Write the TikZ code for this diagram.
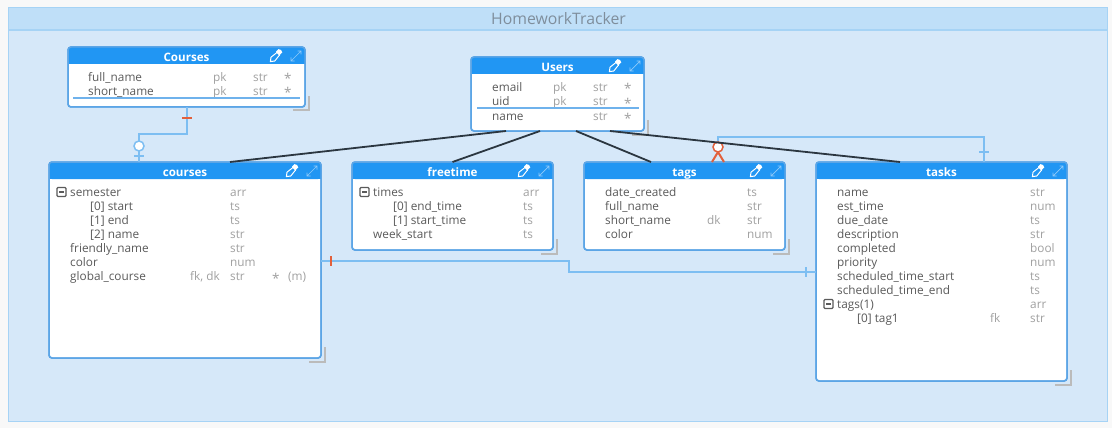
\documentclass[tikz,border=0pt]{standalone}
\usepackage{fontspec}
\setmainfont{Open Sans}
\usetikzlibrary{calc}
\definecolor{outerbg}{HTML}{F8F8F8}
\definecolor{panelbg}{HTML}{D6E8F9}
\definecolor{panelband}{HTML}{BFDFF8}
\definecolor{panelline}{HTML}{A6D3F5}
\definecolor{headblue}{HTML}{2196F3}
\definecolor{boxline}{HTML}{5CA5E6}
\definecolor{sepline}{HTML}{6FB2EC}
\definecolor{conn}{HTML}{7DBEF2}
\definecolor{redmark}{HTML}{E2603C}
\definecolor{txt}{HTML}{5A5A5A}
\definecolor{txtlight}{HTML}{A0A0A0}
\definecolor{dark}{HTML}{2B3640}
\definecolor{grip}{HTML}{BBBBBB}
\definecolor{titlegray}{HTML}{7F8E9C}
\tikzset{
  x=1pt,y=-1pt,
  tablebox/.style={draw=boxline,line width=1.5pt,fill=white,rounded corners=3pt,anchor=north west,inner sep=0pt,outer sep=0pt},
  rowname/.style={anchor=base west,inner sep=0pt,font=\fontsize{11.8}{12}\selectfont,text=txt},
  rowmeta/.style={anchor=base west,inner sep=0pt,font=\fontsize{11.8}{12}\selectfont,text=txtlight},
  rowstar/.style={anchor=base west,inner sep=0pt,font=\fontsize{13.5}{14}\selectfont,text=txtlight},
  tabletitle/.style={anchor=base,inner sep=0pt,font=\fontsize{11.6}{13}\selectfont\bfseries,text=white},
  relline/.style={draw=conn,line width=2pt},
  rel/.style={draw=dark,line width=1.8pt},
  bluebar/.style={draw=conn,line width=2pt},
  redbar/.style={draw=redmark,line width=2pt},
}
% #1 name, #2 x, #3 y, #4 w, #5 h, #6 title
\newcommand{\tablenode}[6]{%
  \node[tablebox,minimum width=#4,minimum height=#5] (#1) at (#2,#3) {};
  \fill[headblue,rounded corners=3pt] (#2,#3+17) -- (#2,#3) -- (#2+#4,#3) -- (#2+#4,#3+17) -- cycle;
  \fill[headblue] (#2,#3+10) rectangle (#2+#4,#3+17);
  \draw[boxline,line width=1.5pt,rounded corners=3pt] (#2,#3) rectangle (#2+#4,#3+#5);
  \node[tabletitle] (#1-title) at (#2+#4/2,#3+14.8) {#6};
  \begin{scope}[shift={(#2+#4-29,#3+9)},scale=1.25]
    \draw[white,line width=1pt,line join=round,fill=headblue] (-4.5,4.5) -- (-4,1) -- (1,-3) -- (3,-1) -- (-1,4) -- cycle;
    \fill[white] (0,-3.5) -- (2,-5.5) to[bend left=40] (5,-3) -- (3,-1) -- (3.2,0) -- (0,-3) -- cycle;
  \end{scope}
  \begin{scope}[shift={(#2+#4-9,#3+9)}]
    \draw[white!50!headblue,line width=.7pt] (-5,5) -- (5,-5) (1.5,-5) -- (5,-5) -- (5,-1.5) (-5,1.5) -- (-5,5) -- (-1.5,5);
  \end{scope}
  \draw[grip,line width=2pt] (#2+#4-12,#3+#5+3.5) -- (#2+#4+4,#3+#5+3.5) -- (#2+#4+4,#3+#5-11);
}
% #1 x, #2 y (middle of row), #3 text
\newcommand{\nm}[3]{\node[rowname] at (#1,#2+4.5) {#3};}
\newcommand{\mt}[3]{\node[rowmeta] at (#1,#2+4.5) {#3};}
\newcommand{\st}[2]{\node[rowstar] at (#1,#2+7) {*};}
\newcommand{\minusbox}[2]{\draw[txt,line width=1.2pt,rounded corners=1pt] (#1,#2-4.5) rectangle (#1+9,#2+4.5); \draw[txt,line width=1.2pt] (#1+2,#2) -- (#1+7,#2);}
\begin{document}
\begin{tikzpicture}
\useasboundingbox (0,0) rectangle (1112,428);
\fill[outerbg] (0,0) rectangle (1112,428);
% panel
\node[draw=panelline,line width=1.5pt,fill=panelbg,anchor=north west,inner sep=0pt,outer sep=0pt,minimum width=1099,minimum height=414] (panel) at (8.5,7.5) {};
\fill[panelband] (9,8) rectangle (1107,30);
\draw[panelline,line width=1.5pt] (9,30) -- (1107,30);
\node[inner sep=0pt,font=\fontsize{15.8}{17}\selectfont,text=titlegray] (paneltitle) at (558.5,19) {HomeworkTracker};

% tables
\tablenode{Courses}{68}{47}{237}{60}{Courses}
\tablenode{Users}{471}{57}{173}{74}{Users}
\tablenode{courses}{49}{162}{272}{196}{courses}
\tablenode{freetime}{352}{162}{201}{88}{freetime}
\tablenode{tags}{584}{162}{201}{88}{tags}
\tablenode{tasks}{816}{162}{251}{219}{tasks}

% Courses rows
\nm{88}{77}{full\_name}\mt{213}{77}{pk}\mt{253}{77}{str}\st{284}{77}
\nm{88}{91}{short\_name}\mt{213}{91}{pk}\mt{253}{91}{str}\st{284}{91}
\draw[sepline,line width=1.5pt] (73,98) -- (300,98);
% Users rows
\nm{492}{87}{email}\mt{553}{87}{pk}\mt{593}{87}{str}\st{624}{87}
\nm{492}{101}{uid}\mt{553}{101}{pk}\mt{593}{101}{str}\st{624}{101}
\draw[sepline,line width=1.5pt] (477,108) -- (639,108);
\nm{492}{116}{name}\mt{593}{116}{str}\st{624}{116}
% courses rows
\minusbox{57}{192}
\nm{70}{192}{semester}\mt{230}{192}{arr}
\nm{90}{206}{[0] start}\mt{230}{206}{ts}
\nm{90}{220}{[1] end}\mt{230}{220}{ts}
\nm{90}{234}{[2] name}\mt{230}{234}{str}
\nm{70}{248}{friendly\_name}\mt{230}{248}{str}
\nm{70}{262}{color}\mt{230}{262}{num}
\nm{70}{276}{global\_course}\mt{190}{276}{fk, dk}\mt{230}{276}{str}\st{272}{276}\mt{288}{276}{(m)}
% freetime rows
\minusbox{360}{192}
\nm{373}{192}{times}\mt{523}{192}{arr}
\nm{393}{206}{[0] end\_time}\mt{523}{206}{ts}
\nm{393}{220}{[1] start\_time}\mt{523}{220}{ts}
\nm{373}{234}{week\_start}\mt{523}{234}{ts}
% tags rows
\nm{605}{192}{date\_created}\mt{747}{192}{ts}
\nm{605}{206}{full\_name}\mt{747}{206}{str}
\nm{605}{220}{short\_name}\mt{707}{220}{dk}\mt{747}{220}{str}
\nm{605}{234}{color}\mt{747}{234}{num}
% tasks rows
\nm{837}{192}{name}\mt{1030}{192}{str}
\nm{837}{206}{est\_time}\mt{1030}{206}{num}
\nm{837}{220}{due\_date}\mt{1030}{220}{ts}
\nm{837}{234}{description}\mt{1030}{234}{str}
\nm{837}{248}{completed}\mt{1030}{248}{bool}
\nm{837}{262}{priority}\mt{1030}{262}{num}
\nm{837}{276}{scheduled\_time\_start}\mt{1030}{276}{ts}
\nm{837}{290}{scheduled\_time\_end}\mt{1030}{290}{ts}
\minusbox{824}{304}
\nm{837}{304}{tags(1)}\mt{1030}{304}{arr}
\nm{857}{318}{[0] tag1}\mt{990}{318}{fk}\mt{1030}{318}{str}

% blue relations
\draw[relline] ($(Courses.south west)+(119,0)$) |- ($(courses.north west)+(90,-28)$) -- ($(courses.north west)+(90,0)$);
\draw[redbar] ($(Courses.south west)+(114,10.5)$) -- ($(Courses.south west)+(124,10.5)$);
\draw[bluebar] ($(courses.north west)+(85,-6)$) -- ($(courses.north west)+(95,-6)$);
\draw[conn,line width=1.5pt,fill=white] ($(courses.north west)+(90,-16)$) circle (5);

\draw[relline] ($(courses.north east)+(0,99)$) -- ($(courses.north east)+(248,99)$) -- ($(tasks.north west)+(-247,110)$) -- ($(tasks.north west)+(0,110)$);
\draw[redbar] ($(courses.north east)+(10,94)$) -- ($(courses.north east)+(10,104)$);
\draw[bluebar] ($(tasks.north west)+(-10,105)$) -- ($(tasks.north west)+(-10,115)$);

\draw[relline] ($(tags.north west)+(134,-15)$) -- ($(tags.north west)+(134,-25)$) -| ($(tasks.north west)+(168,0)$);
\draw[bluebar] ($(tasks.north west)+(163,-10)$) -- ($(tasks.north west)+(173,-10)$);
\draw[redbar] ($(tags.north west)+(128,0)$) -- ($(tags.north west)+(134,-10)$) -- ($(tags.north west)+(140,0)$);
\draw[redmark,line width=1.5pt,fill=white] ($(tags.north west)+(134,-15)$) circle (5);

% dark relations
\draw[rel] ($(Users.south west)+(35,0)$) -- ($(courses.north west)+(181,0)$);
\draw[rel] ($(Users.south west)+(69,0)$) -- (freetime.north);
\draw[rel] ($(Users.south west)+(105,0)$) -- ($(tags.north west)+(67,0)$);
\draw[rel] ($(Users.south west)+(139,0)$) -- ($(tasks.north west)+(84,0)$);
\end{tikzpicture}
\end{document}
